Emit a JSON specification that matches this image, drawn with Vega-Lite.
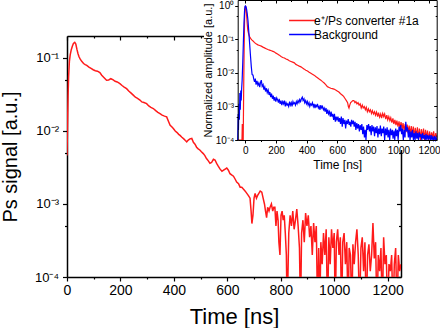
{
"$schema":"https://vega.github.io/schema/vega-lite/v6.json",
"width":334,"height":241,
"autosize":"none",
"padding":{"left":67,"top":36,"right":39,"bottom":51},
"background":"white",
"config":{
 "view":{"stroke":null},
 "font":"Liberation Sans",
 "axis":{"grid":false,"domainColor":"#000","tickColor":"#000","labelColor":"#000","titleColor":"#000","labelFont":"Liberation Sans","titleFont":"Liberation Sans","titleFontWeight":"normal","labelOverlap":false,"labelFlush":false},
 "legend":{"labelFont":"Liberation Sans"}
},
"datasets":{
"main":[{"t":0,"v":0.0046},{"t":2,"v":0.012},{"t":4,"v":0.03},{"t":6,"v":0.055},{"t":9,"v":0.09},{"t":12,"v":0.11},{"t":16,"v":0.13},{"t":20,"v":0.145},{"t":24,"v":0.158},{"t":29,"v":0.164},{"t":33,"v":0.155},{"t":37,"v":0.132},{"t":41,"v":0.115},{"t":45,"v":0.104},{"t":49,"v":0.097},{"t":55,"v":0.09},{"t":62,"v":0.084},{"t":68,"v":0.081},{"t":74,"v":0.079},{"t":82,"v":0.075},{"t":90,"v":0.072},{"t":98,"v":0.069},{"t":106,"v":0.067},{"t":114,"v":0.066},{"t":123,"v":0.063},{"t":130,"v":0.058},{"t":138,"v":0.054},{"t":148,"v":0.0495},{"t":156,"v":0.05},{"t":164,"v":0.052},{"t":173,"v":0.05},{"t":180,"v":0.048},{"t":188,"v":0.047},{"t":198,"v":0.0446},{"t":206,"v":0.042},{"t":214,"v":0.04},{"t":223,"v":0.038},{"t":232,"v":0.035},{"t":240,"v":0.033},{"t":248,"v":0.031},{"t":256,"v":0.029},{"t":264,"v":0.028},{"t":273,"v":0.0265},{"t":280,"v":0.025},{"t":288,"v":0.0245},{"t":298,"v":0.0237},{"t":306,"v":0.022},{"t":314,"v":0.021},{"t":323,"v":0.0203},{"t":332,"v":0.019},{"t":340,"v":0.018},{"t":348,"v":0.0173},{"t":356,"v":0.0165},{"t":365,"v":0.016},{"t":373,"v":0.0156},{"t":380,"v":0.0135},{"t":386,"v":0.012},{"t":392,"v":0.0114},{"t":398,"v":0.0108},{"t":405,"v":0.01},{"t":412,"v":0.0095},{"t":418,"v":0.009},{"t":423,"v":0.0087},{"t":430,"v":0.0082},{"t":437,"v":0.0078},{"t":443,"v":0.0074},{"t":448,"v":0.0071},{"t":454,"v":0.0075},{"t":460,"v":0.0078},{"t":467,"v":0.0079},{"t":473,"v":0.007},{"t":479,"v":0.0066},{"t":485,"v":0.006},{"t":491,"v":0.0057},{"t":497,"v":0.0055},{"t":503,"v":0.0052},{"t":510,"v":0.0049},{"t":516,"v":0.0046},{"t":522,"v":0.0042},{"t":529,"v":0.0039},{"t":535,"v":0.0036},{"t":541,"v":0.0037},{"t":548,"v":0.0041},{"t":554,"v":0.004},{"t":560,"v":0.0036},{"t":566,"v":0.0033},{"t":573,"v":0.003},{"t":580,"v":0.0028},{"t":586,"v":0.0029},{"t":592,"v":0.003},{"t":598,"v":0.0031},{"t":604,"v":0.0029},{"t":610,"v":0.0026},{"t":616,"v":0.0025},{"t":623,"v":0.0024},{"t":629,"v":0.0022},{"t":635,"v":0.002},{"t":642,"v":0.0019},{"t":648,"v":0.0017},{"t":654,"v":0.0017},{"t":660,"v":0.0016},{"t":667,"v":0.0015},{"t":673,"v":0.0014},{"t":679,"v":0.0013},{"t":685,"v":0.0012},{"t":689,"v":0.0008},{"t":692,"v":0.00054},{"t":696,"v":0.0007},{"t":700,"v":0.0012},{"t":704,"v":0.0014},{"t":709,"v":0.0012},{"t":713,"v":0.0013},{"t":718,"v":0.0014},{"t":723,"v":0.0015},{"t":729,"v":0.00145},{"t":734,"v":0.0012},{"t":739,"v":0.001},{"t":743,"v":0.0008},{"t":747,"v":0.00065},{"t":751,"v":0.0009},{"t":756,"v":0.0008},{"t":760,"v":0.0009},{"t":765,"v":0.001},{"t":770,"v":0.0008},{"t":774,"v":0.0009},{"t":778,"v":0.0009},{"t":782,"v":0.0005},{"t":786,"v":0.0008},{"t":790,"v":0.0006},{"t":793,"v":0.0003},{"t":797,"v":0.0002},{"t":801,"v":0.0007},{"t":805,"v":0.0008},{"t":809,"v":0.0006},{"t":813,"v":0.0007},{"t":817,"v":0.0004},{"t":821,"v":0.0002},{"t":824,"v":0.00003},{"t":830,"v":0.0004},{"t":835,"v":0.0007},{"t":840,"v":0.0005},{"t":845,"v":0.0008},{"t":850,"v":0.00045},{"t":855,"v":0.0006},{"t":860,"v":0.00085},{"t":865,"v":0.0005},{"t":870,"v":0.00025},{"t":874,"v":0.00003},{"t":878,"v":0.0004},{"t":883,"v":0.0006},{"t":888,"v":0.0003},{"t":893,"v":0.00075},{"t":898,"v":0.0005},{"t":903,"v":0.0007},{"t":908,"v":0.00035},{"t":913,"v":0.0005},{"t":918,"v":0.0002},{"t":923,"v":0.00055},{"t":928,"v":0.0003},{"t":933,"v":0.0005},{"t":938,"v":0.00003},{"t":942,"v":0.00025},{"t":946,"v":0.00003},{"t":950,"v":0.0003},{"t":955,"v":0.00015},{"t":960,"v":0.0004},{"t":965,"v":0.0002},{"t":970,"v":0.00045},{"t":975,"v":0.00003},{"t":980,"v":0.00035},{"t":985,"v":0.00015},{"t":990,"v":0.00045},{"t":995,"v":0.00025},{"t":1000,"v":0.0004},{"t":1004,"v":0.00003},{"t":1008,"v":0.0003},{"t":1013,"v":0.00045},{"t":1018,"v":0.0002},{"t":1023,"v":0.00035},{"t":1028,"v":0.00003},{"t":1032,"v":0.0003},{"t":1037,"v":0.0004},{"t":1042,"v":0.00015},{"t":1047,"v":0.0003},{"t":1052,"v":0.00003},{"t":1056,"v":0.00025},{"t":1061,"v":0.0002},{"t":1066,"v":0.00003},{"t":1070,"v":0.00028},{"t":1075,"v":0.00015},{"t":1080,"v":0.0003},{"t":1085,"v":0.00045},{"t":1090,"v":0.0002},{"t":1095,"v":0.00003},{"t":1100,"v":0.00025},{"t":1105,"v":0.00035},{"t":1110,"v":0.00012},{"t":1115,"v":0.0003},{"t":1120,"v":0.00003},{"t":1125,"v":0.0002},{"t":1130,"v":0.00028},{"t":1135,"v":0.00012},{"t":1140,"v":0.0002},{"t":1145,"v":0.00055},{"t":1150,"v":0.00018},{"t":1155,"v":0.0003},{"t":1160,"v":0.00003},{"t":1165,"v":0.0002},{"t":1170,"v":0.00012},{"t":1175,"v":0.00025},{"t":1180,"v":0.00003},{"t":1185,"v":0.00035},{"t":1190,"v":0.00015},{"t":1195,"v":0.0002},{"t":1200,"v":0.00003},{"t":1205,"v":0.00015},{"t":1210,"v":0.00012},{"t":1215,"v":0.0002},{"t":1220,"v":0.00003},{"t":1225,"v":0.00015},{"t":1230,"v":0.00025},{"t":1235,"v":0.00003},{"t":1240,"v":0.0002},{"t":1245,"v":0.00012},{"t":1250,"v":0.00015}],
"inset":[{"s":"c","t":-50,"v":0.0001},{"s":"c","t":-22,"v":0.0001},{"s":"c","t":-20,"v":0.0003},{"s":"c","t":-18,"v":0.0001},{"s":"c","t":-14,"v":0.0001},{"s":"c","t":-11,"v":0.003},{"s":"c","t":-8,"v":0.05},{"s":"c","t":-5,"v":0.4},{"s":"c","t":-2,"v":0.85},{"s":"c","t":1,"v":1.0},{"s":"c","t":4,"v":0.9},{"s":"c","t":8,"v":0.55},{"s":"c","t":12,"v":0.3},{"s":"c","t":16,"v":0.19},{"s":"c","t":21,"v":0.15},{"s":"c","t":27,"v":0.122},{"s":"c","t":34,"v":0.108},{"s":"c","t":42,"v":0.097},{"s":"c","t":50,"v":0.09},{"s":"c","t":60,"v":0.08},{"s":"c","t":70,"v":0.074},{"s":"c","t":82,"v":0.069},{"s":"c","t":93,"v":0.066},{"s":"c","t":104,"v":0.063},{"s":"c","t":115,"v":0.059},{"s":"c","t":125,"v":0.056},{"s":"c","t":136,"v":0.053},{"s":"c","t":147,"v":0.05},{"s":"c","t":158,"v":0.048},{"s":"c","t":170,"v":0.046},{"s":"c","t":180,"v":0.044},{"s":"c","t":190,"v":0.042},{"s":"c","t":200,"v":0.039},{"s":"c","t":210,"v":0.037},{"s":"c","t":222,"v":0.034},{"s":"c","t":233,"v":0.031},{"s":"c","t":244,"v":0.029},{"s":"c","t":255,"v":0.028},{"s":"c","t":266,"v":0.026},{"s":"c","t":276,"v":0.025},{"s":"c","t":287,"v":0.023},{"s":"c","t":298,"v":0.022},{"s":"c","t":309,"v":0.021},{"s":"c","t":320,"v":0.02},{"s":"c","t":330,"v":0.018},{"s":"c","t":341,"v":0.017},{"s":"c","t":352,"v":0.016},{"s":"c","t":363,"v":0.0152},{"s":"c","t":374,"v":0.014},{"s":"c","t":385,"v":0.013},{"s":"c","t":395,"v":0.012},{"s":"c","t":406,"v":0.0115},{"s":"c","t":417,"v":0.0105},{"s":"c","t":428,"v":0.0098},{"s":"c","t":438,"v":0.0092},{"s":"c","t":449,"v":0.0086},{"s":"c","t":460,"v":0.0078},{"s":"c","t":471,"v":0.0072},{"s":"c","t":482,"v":0.0066},{"s":"c","t":493,"v":0.0061},{"s":"c","t":504,"v":0.0055},{"s":"c","t":515,"v":0.005},{"s":"c","t":525,"v":0.0045},{"s":"c","t":536,"v":0.0039},{"s":"c","t":547,"v":0.0037},{"s":"c","t":558,"v":0.0035},{"s":"c","t":568,"v":0.0034},{"s":"c","t":579,"v":0.0033},{"s":"c","t":590,"v":0.0031},{"s":"c","t":600,"v":0.0029},{"s":"c","t":611,"v":0.0027},{"s":"c","t":622,"v":0.0024},{"s":"c","t":632,"v":0.0022},{"s":"c","t":642,"v":0.002},{"s":"c","t":652,"v":0.0017},{"s":"c","t":660,"v":0.0015},{"s":"c","t":668,"v":0.0013},{"s":"c","t":673,"v":0.001},{"s":"c","t":677,"v":0.0009},{"s":"c","t":682,"v":0.0011},{"s":"c","t":688,"v":0.0013},{"s":"c","t":695,"v":0.0014},{"s":"c","t":702,"v":0.0015},{"s":"c","t":709,"v":0.0015},{"s":"c","t":716,"v":0.0013},{"s":"c","t":722,"v":0.0014},{"s":"c","t":729,"v":0.0012},{"s":"c","t":736,"v":0.0013},{"s":"c","t":743,"v":0.0011},{"s":"c","t":750,"v":0.0012},{"s":"c","t":757,"v":0.0009},{"s":"c","t":764,"v":0.0011},{"s":"c","t":770,"v":0.0009},{"s":"c","t":777,"v":0.001},{"s":"c","t":784,"v":0.0008},{"s":"c","t":790,"v":0.00095},{"s":"c","t":797,"v":0.0007},{"s":"c","t":804,"v":0.00085},{"s":"c","t":810,"v":0.0007},{"s":"c","t":817,"v":0.0008},{"s":"c","t":824,"v":0.00062},{"s":"c","t":830,"v":0.00075},{"s":"c","t":837,"v":0.0006},{"s":"c","t":844,"v":0.0007},{"s":"c","t":850,"v":0.00055},{"s":"c","t":857,"v":0.00068},{"s":"c","t":864,"v":0.0005},{"s":"c","t":870,"v":0.00065},{"s":"c","t":877,"v":0.00048},{"s":"c","t":884,"v":0.0006},{"s":"c","t":890,"v":0.00045},{"s":"c","t":897,"v":0.00062},{"s":"c","t":904,"v":0.0005},{"s":"c","t":910,"v":0.0006},{"s":"c","t":917,"v":0.00042},{"s":"c","t":924,"v":0.00055},{"s":"c","t":930,"v":0.0004},{"s":"c","t":937,"v":0.0005},{"s":"c","t":944,"v":0.00038},{"s":"c","t":950,"v":0.00046},{"s":"c","t":957,"v":0.00033},{"s":"c","t":964,"v":0.00044},{"s":"c","t":970,"v":0.0003},{"s":"c","t":977,"v":0.0004},{"s":"c","t":984,"v":0.00028},{"s":"c","t":990,"v":0.00038},{"s":"c","t":997,"v":0.00025},{"s":"c","t":1004,"v":0.00036},{"s":"c","t":1010,"v":0.00022},{"s":"c","t":1017,"v":0.00034},{"s":"c","t":1024,"v":0.00021},{"s":"c","t":1030,"v":0.00032},{"s":"c","t":1037,"v":0.00019},{"s":"c","t":1044,"v":0.0003},{"s":"c","t":1050,"v":0.00017},{"s":"c","t":1057,"v":0.00029},{"s":"c","t":1064,"v":0.00016},{"s":"c","t":1070,"v":0.00027},{"s":"c","t":1077,"v":0.00015},{"s":"c","t":1084,"v":0.00026},{"s":"c","t":1090,"v":0.00013},{"s":"c","t":1097,"v":0.00025},{"s":"c","t":1104,"v":0.00012},{"s":"c","t":1110,"v":0.00023},{"s":"c","t":1117,"v":0.00013},{"s":"c","t":1124,"v":0.00024},{"s":"c","t":1130,"v":0.00011},{"s":"c","t":1137,"v":0.00022},{"s":"c","t":1144,"v":0.0001},{"s":"c","t":1150,"v":0.00021},{"s":"c","t":1157,"v":0.00012},{"s":"c","t":1164,"v":0.00022},{"s":"c","t":1170,"v":0.0001},{"s":"c","t":1177,"v":0.0002},{"s":"c","t":1184,"v":0.00011},{"s":"c","t":1190,"v":0.00019},{"s":"c","t":1197,"v":0.0001},{"s":"c","t":1204,"v":0.00018},{"s":"c","t":1210,"v":0.0001},{"s":"c","t":1217,"v":0.00017},{"s":"c","t":1224,"v":0.00011},{"s":"c","t":1230,"v":0.00018},{"s":"c","t":1237,"v":0.0001},{"s":"c","t":1244,"v":0.00016},{"s":"c","t":1250,"v":0.00012},
{"s":"b","t":-50,"v":0.0001},{"s":"b","t":-47,"v":0.0006},{"s":"b","t":-45,"v":0.0002},{"s":"b","t":-42,"v":0.0012},{"s":"b","t":-39,"v":0.0004},{"s":"b","t":-36,"v":0.0025},{"s":"b","t":-33,"v":0.0008},{"s":"b","t":-30,"v":0.003},{"s":"b","t":-27,"v":0.0015},{"s":"b","t":-24,"v":0.0035},{"s":"b","t":-21,"v":0.006},{"s":"b","t":-17,"v":0.02},{"s":"b","t":-13,"v":0.08},{"s":"b","t":-9,"v":0.3},{"s":"b","t":-5,"v":0.75},{"s":"b","t":-2,"v":0.97},{"s":"b","t":1,"v":1.0},{"s":"b","t":4,"v":0.95},{"s":"b","t":8,"v":0.8},{"s":"b","t":12,"v":0.6},{"s":"b","t":17,"v":0.37},{"s":"b","t":22,"v":0.18},{"s":"b","t":28,"v":0.075},{"s":"b","t":33,"v":0.035},{"s":"b","t":39,"v":0.015},{"s":"b","t":44,"v":0.009},{"s":"b","t":50,"v":0.0086},{"s":"b","t":55,"v":0.0065},{"s":"b","t":60,"v":0.0054},{"s":"b","t":65,"v":0.0068},{"s":"b","t":70,"v":0.0045},{"s":"b","t":76,"v":0.0058},{"s":"b","t":82,"v":0.0043},{"s":"b","t":88,"v":0.005},{"s":"b","t":94,"v":0.0038},{"s":"b","t":99,"v":0.0052},{"s":"b","t":104,"v":0.0061},{"s":"b","t":110,"v":0.004},{"s":"b","t":116,"v":0.0045},{"s":"b","t":121,"v":0.0032},{"s":"b","t":127,"v":0.0038},{"s":"b","t":132,"v":0.0028},{"s":"b","t":138,"v":0.0035},{"s":"b","t":143,"v":0.0026},{"s":"b","t":149,"v":0.0031},{"s":"b","t":155,"v":0.0022},{"s":"b","t":160,"v":0.0027},{"s":"b","t":166,"v":0.0019},{"s":"b","t":171,"v":0.0024},{"s":"b","t":177,"v":0.0017},{"s":"b","t":182,"v":0.0021},{"s":"b","t":188,"v":0.0015},{"s":"b","t":193,"v":0.0019},{"s":"b","t":199,"v":0.0014},{"s":"b","t":205,"v":0.0018},{"s":"b","t":210,"v":0.0016},{"s":"b","t":216,"v":0.0013},{"s":"b","t":221,"v":0.0017},{"s":"b","t":227,"v":0.0012},{"s":"b","t":233,"v":0.0015},{"s":"b","t":238,"v":0.0011},{"s":"b","t":244,"v":0.0014},{"s":"b","t":250,"v":0.0012},{"s":"b","t":255,"v":0.0015},{"s":"b","t":261,"v":0.001},{"s":"b","t":266,"v":0.0013},{"s":"b","t":272,"v":0.0011},{"s":"b","t":277,"v":0.0012},{"s":"b","t":283,"v":0.001},{"s":"b","t":289,"v":0.0014},{"s":"b","t":294,"v":0.0011},{"s":"b","t":300,"v":0.0013},{"s":"b","t":305,"v":0.001},{"s":"b","t":311,"v":0.0014},{"s":"b","t":316,"v":0.0012},{"s":"b","t":322,"v":0.0013},{"s":"b","t":327,"v":0.0011},{"s":"b","t":333,"v":0.0014},{"s":"b","t":338,"v":0.0012},{"s":"b","t":344,"v":0.0015},{"s":"b","t":350,"v":0.0013},{"s":"b","t":355,"v":0.0016},{"s":"b","t":361,"v":0.0014},{"s":"b","t":366,"v":0.0017},{"s":"b","t":372,"v":0.0019},{"s":"b","t":377,"v":0.0015},{"s":"b","t":383,"v":0.0017},{"s":"b","t":388,"v":0.0013},{"s":"b","t":394,"v":0.0015},{"s":"b","t":399,"v":0.0012},{"s":"b","t":405,"v":0.0014},{"s":"b","t":410,"v":0.0011},{"s":"b","t":416,"v":0.0013},{"s":"b","t":421,"v":0.001},{"s":"b","t":427,"v":0.0012},{"s":"b","t":433,"v":0.0011},{"s":"b","t":438,"v":0.0013},{"s":"b","t":444,"v":0.001},{"s":"b","t":449,"v":0.0012},{"s":"b","t":455,"v":0.0009},{"s":"b","t":460,"v":0.0011},{"s":"b","t":466,"v":0.001},{"s":"b","t":471,"v":0.0012},{"s":"b","t":477,"v":0.0009},{"s":"b","t":482,"v":0.001},{"s":"b","t":488,"v":0.0008},{"s":"b","t":493,"v":0.0011},{"s":"b","t":499,"v":0.0009},{"s":"b","t":504,"v":0.001},{"s":"b","t":510,"v":0.0008},{"s":"b","t":515,"v":0.0009},{"s":"b","t":521,"v":0.0007},{"s":"b","t":527,"v":0.0009},{"s":"b","t":532,"v":0.0006},{"s":"b","t":538,"v":0.0008},{"s":"b","t":543,"v":0.0006},{"s":"b","t":549,"v":0.0007},{"s":"b","t":555,"v":0.0005},{"s":"b","t":560,"v":0.0007},{"s":"b","t":566,"v":0.0005},{"s":"b","t":571,"v":0.0006},{"s":"b","t":577,"v":0.0004},{"s":"b","t":582,"v":0.0006},{"s":"b","t":588,"v":0.00035},{"s":"b","t":593,"v":0.0005},{"s":"b","t":599,"v":0.0004},{"s":"b","t":605,"v":0.0005},{"s":"b","t":610,"v":0.00035},{"s":"b","t":616,"v":0.00045},{"s":"b","t":622,"v":0.0003},{"s":"b","t":627,"v":0.0005},{"s":"b","t":633,"v":0.00025},{"s":"b","t":638,"v":0.00045},{"s":"b","t":644,"v":0.0003},{"s":"b","t":650,"v":0.0004},{"s":"b","t":655,"v":0.00022},{"s":"b","t":661,"v":0.00038},{"s":"b","t":666,"v":0.0003},{"s":"b","t":672,"v":0.00042},{"s":"b","t":678,"v":0.00028},{"s":"b","t":683,"v":0.00035},{"s":"b","t":689,"v":0.00025},{"s":"b","t":694,"v":0.0004},{"s":"b","t":700,"v":0.0003},{"s":"b","t":706,"v":0.00038},{"s":"b","t":711,"v":0.00025},{"s":"b","t":717,"v":0.00035},{"s":"b","t":722,"v":0.0002},{"s":"b","t":728,"v":0.00032},{"s":"b","t":733,"v":0.00022},{"s":"b","t":739,"v":0.0003},{"s":"b","t":745,"v":0.00018},{"s":"b","t":750,"v":0.00028},{"s":"b","t":756,"v":0.0002},{"s":"b","t":761,"v":0.0003},{"s":"b","t":767,"v":0.00015},{"s":"b","t":772,"v":0.00025},{"s":"b","t":778,"v":0.00012},{"s":"b","t":783,"v":0.0002},{"s":"b","t":788,"v":0.0001},{"s":"b","t":794,"v":0.00028},{"s":"b","t":799,"v":0.0002},{"s":"b","t":805,"v":0.0003},{"s":"b","t":811,"v":0.00018},{"s":"b","t":816,"v":0.00026},{"s":"b","t":822,"v":0.00014},{"s":"b","t":827,"v":0.00028},{"s":"b","t":833,"v":0.00018},{"s":"b","t":838,"v":0.00025},{"s":"b","t":844,"v":0.00013},{"s":"b","t":849,"v":0.00024},{"s":"b","t":855,"v":0.00016},{"s":"b","t":860,"v":0.00026},{"s":"b","t":866,"v":0.00012},{"s":"b","t":871,"v":0.00022},{"s":"b","t":877,"v":0.00015},{"s":"b","t":882,"v":0.00027},{"s":"b","t":888,"v":0.00013},{"s":"b","t":893,"v":0.00022},{"s":"b","t":899,"v":0.00016},{"s":"b","t":904,"v":0.00025},{"s":"b","t":910,"v":0.0001},{"s":"b","t":915,"v":0.00022},{"s":"b","t":921,"v":0.00014},{"s":"b","t":926,"v":0.00024},{"s":"b","t":932,"v":0.00012},{"s":"b","t":937,"v":0.0002},{"s":"b","t":943,"v":0.0001},{"s":"b","t":948,"v":0.00022},{"s":"b","t":954,"v":0.00014},{"s":"b","t":960,"v":0.0002},{"s":"b","t":965,"v":0.00011},{"s":"b","t":971,"v":0.00019},{"s":"b","t":976,"v":0.0001},{"s":"b","t":982,"v":0.00022},{"s":"b","t":987,"v":0.00013},{"s":"b","t":993,"v":0.0002},{"s":"b","t":998,"v":0.0001},{"s":"b","t":1004,"v":0.00025},{"s":"b","t":1010,"v":0.00018},{"s":"b","t":1015,"v":0.00028},{"s":"b","t":1021,"v":0.00015},{"s":"b","t":1026,"v":0.00022},{"s":"b","t":1032,"v":0.0001},{"s":"b","t":1037,"v":0.0002},{"s":"b","t":1043,"v":0.00012},{"s":"b","t":1048,"v":0.00035},{"s":"b","t":1054,"v":0.00018},{"s":"b","t":1059,"v":0.00024},{"s":"b","t":1065,"v":0.00012},{"s":"b","t":1070,"v":0.0002},{"s":"b","t":1076,"v":0.0001},{"s":"b","t":1081,"v":0.00018},{"s":"b","t":1087,"v":0.00012},{"s":"b","t":1092,"v":0.0002},{"s":"b","t":1098,"v":0.0001},{"s":"b","t":1103,"v":0.00016},{"s":"b","t":1109,"v":0.0001},{"s":"b","t":1114,"v":0.00018},{"s":"b","t":1120,"v":0.00011},{"s":"b","t":1125,"v":0.00016},{"s":"b","t":1131,"v":0.0001},{"s":"b","t":1136,"v":0.00017},{"s":"b","t":1142,"v":0.00012},{"s":"b","t":1147,"v":0.00015},{"s":"b","t":1153,"v":0.0001},{"s":"b","t":1158,"v":0.00016},{"s":"b","t":1164,"v":0.00011},{"s":"b","t":1169,"v":0.00014},{"s":"b","t":1175,"v":0.0001},{"s":"b","t":1180,"v":0.00015},{"s":"b","t":1186,"v":0.0001},{"s":"b","t":1191,"v":0.00014},{"s":"b","t":1197,"v":0.00011},{"s":"b","t":1202,"v":0.00013},{"s":"b","t":1208,"v":0.0001},{"s":"b","t":1213,"v":0.00014},{"s":"b","t":1219,"v":0.0001},{"s":"b","t":1224,"v":0.00012},{"s":"b","t":1230,"v":0.0001},{"s":"b","t":1235,"v":0.00013},{"s":"b","t":1241,"v":0.0001},{"s":"b","t":1246,"v":0.00012},{"s":"b","t":1250,"v":0.0001}]
},
"layer":[
 {
  "data":{"name":"main"},
  "layer":[
   {
    "mark":{"type":"line","color":"#ff1a1a","strokeWidth":1.5,"clip":true},
    "encoding":{
     "x":{"field":"t","type":"quantitative","scale":{"domain":[0,1250],"nice":false,"zero":false},
      "axis":{"orient":"bottom","values":[0,100,200,300,400,500,600,700,800,900,1000,1100,1200],"format":"d","labelExpr":"datum.value % 200 === 0 ? datum.label : ''","tickSize":{"condition":{"test":"datum.value % 200 === 0","value":4},"value":2},"domainWidth":1.5,"tickWidth":1.2,"labelFontSize":14,"labelPadding":2,"title":"Time [ns]","titleFontSize":22,"titlePadding":9,"zindex":0}},
     "y":{"field":"v","type":"quantitative","scale":{"type":"log","domain":[0.0001,0.2],"nice":false},
      "axis":{"orient":"left","values":[0.0001,0.0005,0.001,0.005,0.01,0.05,0.1],"labelExpr":"abs(log(datum.value)/LN10 - round(log(datum.value)/LN10)) < 0.01 ? ['10⁰','10⁻¹','10⁻²','10⁻³','10⁻⁴'][-round(log(datum.value)/LN10)] : ''","tickSize":{"condition":{"test":"abs(log(datum.value)/LN10 - round(log(datum.value)/LN10)) < 0.01","value":4.5},"value":2.5},"domainWidth":1.5,"tickWidth":1.2,"labelFontSize":13,"labelPadding":4,"title":"Ps signal [a.u.]","titleFontSize":20,"titlePadding":14,"zindex":0}}
    }
   },
   {
    "mark":{"type":"line","strokeOpacity":0},
    "encoding":{
     "x":{"field":"t","type":"quantitative","scale":{"domain":[0,1250],"nice":false,"zero":false},
      "axis":{"orient":"top","values":[0,100,200,300,400,500,600,700,800,900,1000,1100,1200],"labels":false,"tickSize":{"condition":{"test":"datum.value % 200 === 0","value":-4},"value":-2},"domainWidth":1.5,"tickWidth":1.2,"title":null,"zindex":0}},
     "y":{"field":"v","type":"quantitative","scale":{"type":"log","domain":[0.0001,0.2],"nice":false},
      "axis":{"orient":"right","values":[0.0001,0.0005,0.001,0.005,0.01,0.05,0.1],"labels":false,"tickSize":{"condition":{"test":"abs(log(datum.value)/LN10 - round(log(datum.value)/LN10)) < 0.01","value":-4.5},"value":-2.5},"domainWidth":1.5,"tickWidth":1.2,"title":null,"zindex":0}}
    }
   }
  ],
  "resolve":{"axis":{"x":"independent","y":"independent"}}
 },
 {
  "layer":[
   {
    "data":{"values":[{}]},
    "mark":{"type":"rect","color":"white"},
    "encoding":{
     "x":{"datum":-270,"type":"quantitative","scale":{"domain":[-50,1250],"range":[170.7,369.7],"nice":false,"zero":false},"axis":null},
     "x2":{"datum":1275},
     "y":{"datum":1.6,"type":"quantitative","scale":{"type":"log","domain":[0.0001,1.5],"range":[104,-36],"nice":false},"axis":null},
     "y2":{"datum":0.00005}
    }
   },
   {
    "data":{"name":"inset"},
    "mark":{"type":"line","strokeWidth":1.2},
    "encoding":{
     "x":{"field":"t","type":"quantitative","scale":{"domain":[-50,1250],"range":[170.7,369.7],"nice":false,"zero":false},
      "axis":{"orient":"bottom","offset":-137,"values":[0,100,200,300,400,500,600,700,800,900,1000,1100,1200],"format":"d","labelExpr":"datum.value % 200 === 0 ? datum.label : ''","tickSize":{"condition":{"test":"datum.value % 200 === 0","value":3},"value":1.5},"domainWidth":1,"tickWidth":1,"labelFontSize":10,"labelPadding":2,"title":"Time [ns]","titleFontSize":12,"titlePadding":4,"zindex":1}},
     "y":{"field":"v","type":"quantitative","scale":{"type":"log","domain":[0.0001,1.5],"range":[104,-36],"nice":false},
      "axis":{"orient":"left","offset":-170.7,"values":[0.0001,0.0005,0.001,0.005,0.01,0.05,0.1,0.5,1],"labelExpr":"abs(log(datum.value)/LN10 - round(log(datum.value)/LN10)) < 0.01 ? ['10⁰','10⁻¹','10⁻²','10⁻³','10⁻⁴'][-round(log(datum.value)/LN10)] : ''","tickSize":{"condition":{"test":"abs(log(datum.value)/LN10 - round(log(datum.value)/LN10)) < 0.01","value":3},"value":1.5},"domainWidth":1,"tickWidth":1,"labelFontSize":10,"labelPadding":1,"title":"Normalized amplitude [a.u.]","titleFontSize":11,"titlePadding":2,"zindex":1}},
     "color":{"field":"s","type":"nominal","scale":{"domain":["c","b"],"range":["#ff1a1a","#0000ff"]},
      "legend":{"orient":"none","legendX":228,"legendY":-23,"title":null,"symbolType":"M-2,0H2","symbolSize":180,"symbolStrokeWidth":1.5,"labelFontSize":12,"labelColor":"#000","labelOffset":4,"rowPadding":0,"labelExpr":"datum.label == 'c' ? 'e⁺/Ps converter #1a' : 'Background'","zindex":1}}
    }
   },
   {
    "data":{"name":"inset"},
    "mark":{"type":"line","strokeOpacity":0},
    "encoding":{
     "x":{"field":"t","type":"quantitative","scale":{"domain":[-50,1250],"range":[170.7,369.7],"nice":false,"zero":false},
      "axis":{"orient":"top","offset":36,"values":[0,100,200,300,400,500,600,700,800,900,1000,1100,1200],"labels":false,"tickSize":{"condition":{"test":"datum.value % 200 === 0","value":-3},"value":-1.5},"domainWidth":1,"tickWidth":1,"title":null,"zindex":1}},
     "y":{"field":"v","type":"quantitative","scale":{"type":"log","domain":[0.0001,1.5],"range":[104,-36],"nice":false},
      "axis":{"orient":"right","offset":35.7,"values":[0.0001,0.0005,0.001,0.005,0.01,0.05,0.1,0.5,1],"labels":false,"tickSize":{"condition":{"test":"abs(log(datum.value)/LN10 - round(log(datum.value)/LN10)) < 0.01","value":-3},"value":-1.5},"domainWidth":1,"tickWidth":1,"title":null,"zindex":1}}
    }
   }
  ],
  "resolve":{"axis":{"x":"independent","y":"independent"}}
 }
],
"resolve":{"scale":{"x":"independent","y":"independent"}}
}
